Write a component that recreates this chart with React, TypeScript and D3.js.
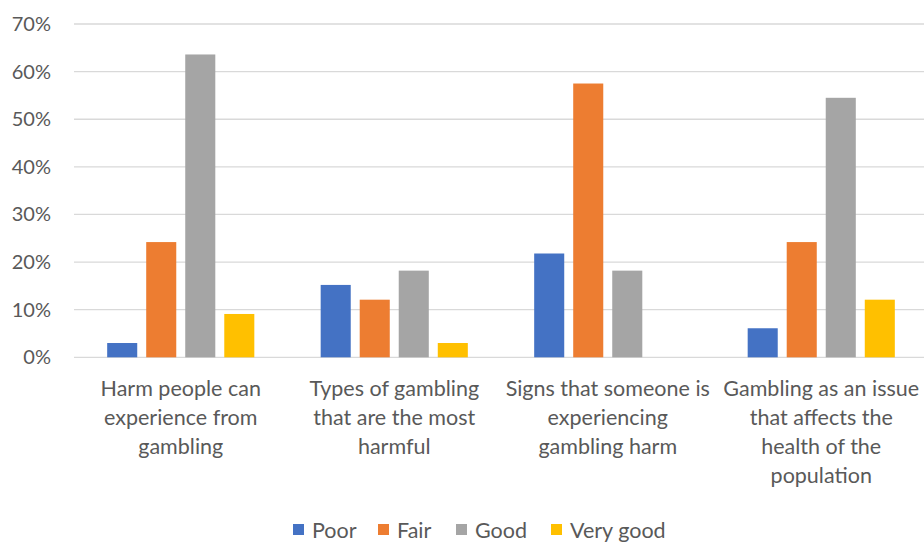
import React from "react";
import * as d3 from "d3";

const categories = [
  "Harm people can\nexperience from\ngambling",
  "Types of gambling\nthat are the most\nharmful",
  "Signs that someone is\nexperiencing\ngambling harm",
  "Gambling as an issue\nthat affects the\nhealth of the\npopulation",
];
const seriesNames = ["Poor", "Fair", "Good", "Very good"];
const poor = [3.0, 15.2, 21.8, 6.1];
const fair = [24.2, 12.1, 57.5, 24.2];
const good = [63.6, 18.2, 18.2, 54.5];
const veryGood = [9.1, 3.0, 0, 12.1];
const colors = ["#4472C4", "#ED7D31", "#A5A5A5", "#FFC000"];
const yTicks = [0, 10, 20, 30, 40, 50, 60, 70];

const W = 924;
const H = 542;
const FONT = "Lato, 'Open Sans', sans-serif";
const TXT = "#595959";

export default function App() {
  const series = [poor, fair, good, veryGood];
  const x0 = d3.scaleBand<number>().domain(d3.range(categories.length)).range([74, 928]);
  const x1 = d3
    .scaleBand<number>()
    .domain(d3.range(seriesNames.length))
    .range([0, x0.bandwidth()])
    .paddingInner(0.23)
    .paddingOuter(0.85);
  const y = d3.scaleLinear().domain([0, 70]).range([357.3, 24]);

  const legendX = [293, 378, 456, 551];

  return (
    <svg
      width={W}
      height={H}
      style={{ position: "absolute", left: 0, top: 0, background: "#fff" }}
      fontFamily={FONT}
    >
      {yTicks.map((t) => (
        <g key={t}>
          <line x1={74} x2={924} y1={y(t)} y2={y(t)} stroke="#D9D9D9" strokeWidth={1.3} />
          <text x={51} y={y(t)} dy="0.35em" textAnchor="end" fontSize={20} fill={TXT}>
            {t}%
          </text>
        </g>
      ))}
      {categories.map((c, i) => (
        <g key={c}>
          {series.map((s, j) =>
            s[i] > 0 ? (
              <rect
                key={j}
                x={(x0(i) as number) + (x1(j) as number)}
                y={y(s[i])}
                width={x1.bandwidth()}
                height={y(0) - y(s[i])}
                fill={colors[j]}
              />
            ) : null
          )}
          {c.split("\n").map((line, k) => (
            <text
              key={k}
              x={(x0(i) as number) + x0.bandwidth() / 2}
              y={388 + k * 29.3}
              dy="0.35em"
              textAnchor="middle"
              fontSize={21.5}
              fill={TXT}
            >
              {line}
            </text>
          ))}
        </g>
      ))}
      {seriesNames.map((n, j) => (
        <g key={n}>
          <rect x={legendX[j]} y={524} width={11} height={11} fill={colors[j]} />
          <text x={legendX[j] + 19} y={530} dy="0.35em" fontSize={21.5} fill={TXT}>
            {n}
          </text>
        </g>
      ))}
    </svg>
  );
}
